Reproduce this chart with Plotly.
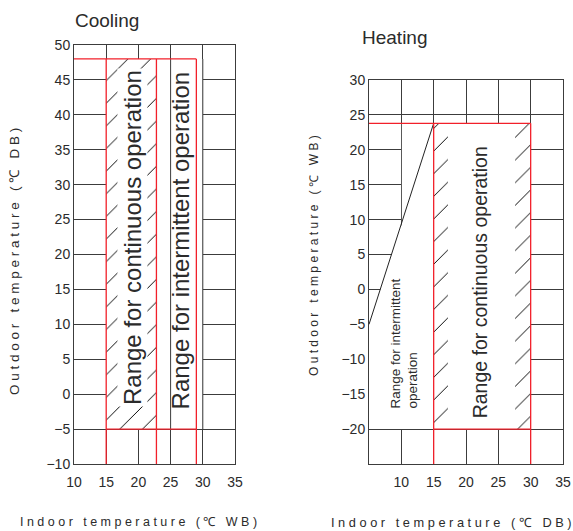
import plotly.graph_objects as go

# ticks
cool_xticks = [10, 15, 20, 25, 30, 35]
cool_yticks = [-10, -5, 0, 5, 10, 15, 20, 25, 30, 35, 40, 45, 50]
heat_xticks = [10, 15, 20, 25, 30, 35]
heat_yticks = [-20, -15, -10, -5, 0, 5, 10, 15, 20, 25, 30]

# cooling limits (indoor WB / outdoor DB)
cool_cont_x = [15, 22.8]
cool_inter_x = [15, 29]
cool_out_y = [-5, 48]

# heating limits (indoor DB / outdoor WB)
heat_cont_x = [15, 30]
heat_out_y = [-20, 23.8]
heat_inter_line_x = [5, 15]
heat_inter_line_y = [-5, 23.8]

RED = '#f2202a'
GRID = '#3c3c3c'
TXT = '#2b2b2b'
FONT = 'Arial, Liberation Sans, sans-serif'
HATCH = dict(shape='/', size=16, solidity=0.06, fgcolor='#000', fgopacity=1, bgcolor='white')

W, H = 573, 531


def px(x):
    return x / W


def py(y):
    return 1 - y / H


def spaced(s):
    # the original axis titles are letter-spaced
    return '\u00a0'.join(s.replace(' ', '\u00a0'))


fig = go.Figure()


def red(x, y, xa, ya):
    fig.add_trace(go.Scatter(x=x, y=y, mode='lines', xaxis=xa, yaxis=ya,
                             line=dict(color=RED, width=1.3), hoverinfo='skip'))


# ---- Cooling ----
x0, x1 = cool_cont_x
y0, y1 = cool_out_y
fig.add_trace(go.Scatter(
    x=[x0, x1, x1, x0, x0], y=[y0, y0, y1, y1, y0], fill='toself', mode='none',
    fillcolor='white', xaxis='x', yaxis='y', hoverinfo='skip', fillpattern=HATCH))
ix1 = cool_inter_x[1]
red([10, ix1], [y1, y1], 'x', 'y')
red([x0, ix1], [y0, y0], 'x', 'y')
for xv in [x0, x1, ix1]:
    red([xv, xv], [y1, cool_yticks[0]], 'x', 'y')

# ---- Heating ----
hx0, hx1 = heat_cont_x
hy0, hy1 = heat_out_y
sw_l, sw_r = 2.2, 2.4
fig.add_trace(go.Scatter(
    x=[hx0, hx0 + sw_l, hx0 + sw_l, hx0, hx0, None, hx1 - sw_r, hx1, hx1, hx1 - sw_r, hx1 - sw_r],
    y=[hy0, hy0, hy1, hy1, hy0, None, hy0, hy0, hy1, hy1, hy0],
    fill='toself', mode='none', fillcolor='white', xaxis='x2', yaxis='y2', hoverinfo='skip',
    fillpattern=HATCH))
fig.add_trace(go.Scatter(x=heat_inter_line_x, y=heat_inter_line_y, mode='lines',
                         xaxis='x2', yaxis='y2', line=dict(color='#222', width=1),
                         hoverinfo='skip'))
red([5, hx1], [hy1, hy1], 'x2', 'y2')
red([hx0, hx1], [hy0, hy0], 'x2', 'y2')
for xv in [hx0, hx1]:
    red([xv, xv], [hy1, -25], 'x2', 'y2')

# white masks over the grid inside the ranges
ym = heat_inter_line_y[0] + (heat_inter_line_y[1] - heat_inter_line_y[0]) * 0.5
shapes = [
    dict(type='rect', xref='x', yref='y', x0=15, x1=30, y0=y0, y1=y1,
         fillcolor='white', line=dict(width=0), layer='between'),
    dict(type='line', xref='x', yref='y', x0=25, x1=25, y0=y0, y1=y1,
         line=dict(color=GRID, width=1), layer='between'),
    dict(type='line', xref='x', yref='y', x0=30, x1=30, y0=y0, y1=y1,
         line=dict(color=GRID, width=1), layer='between'),
    dict(type='path', xref='x2', yref='y2',
         path=f'M 5,{hy0} L 5,-5 L 10.08,{ym} L 10.08,{hy1} L {hx1},{hy1} L {hx1},{hy0} Z',
         fillcolor='white', line=dict(width=0), layer='between'),
]

c = dict(xanchor='center', yanchor='middle', showarrow=False)
ann = [
    dict(c, text='Range for continuous operation', x=19, y=22.5, xref='x', yref='y',
         textangle=-90, font=dict(size=24, color=TXT), bgcolor='white', borderpad=1),
    dict(c, text='Range for intermittent operation', x=26.6, y=22.0, xref='x', yref='y',
         textangle=-90, font=dict(size=24, color=TXT)),
    dict(c, text='Range for continuous operation', x=22.3, y=1.0, xref='x2', yref='y2',
         textangle=-90, font=dict(size=19.5, color=TXT)),
    dict(c, text='Range for intermittent<br>operation', x=10.5, y=-7.8, xref='x2', yref='y2',
         textangle=-90, align='left', font=dict(size=13.5, color=TXT)),
    dict(c, text='Cooling', x=px(107), y=py(21), xref='paper', yref='paper',
         font=dict(size=19, color=TXT, family='Liberation Sans Narrow, Arial Narrow, Arial')),
    dict(c, text='Heating', x=px(395), y=py(38), xref='paper', yref='paper',
         font=dict(size=19, color=TXT, family='Liberation Sans Narrow, Arial Narrow, Arial')),
    dict(c, text=spaced('Indoor temperature (℃ WB)'), x=px(138), y=py(522),
         xref='paper', yref='paper', font=dict(size=12.5, color=TXT)),
    dict(c, text=spaced('Indoor temperature (℃ DB)'), x=px(451), y=py(522),
         xref='paper', yref='paper', font=dict(size=12.8, color=TXT)),
    dict(c, text=spaced('Outdoor temperature (℃ DB)'), x=px(14), y=py(262),
         textangle=-90, xref='paper', yref='paper', font=dict(size=13.5, color=TXT)),
    dict(c, text=spaced('Outdoor temperature (℃ WB)'), x=px(314), y=py(256),
         textangle=-90, xref='paper', yref='paper', font=dict(size=12, color=TXT)),
]

ax = dict(showgrid=True, gridcolor=GRID, gridwidth=1, showline=True, linecolor=GRID,
          linewidth=1, mirror=True, zeroline=False, ticks='', fixedrange=True,
          tickfont=dict(size=14, color=TXT))

fig.update_layout(
    width=W, height=H, showlegend=False,
    margin=dict(l=0, r=0, t=0, b=0, autoexpand=False),
    paper_bgcolor='white', plot_bgcolor='white',
    font=dict(family=FONT, color=TXT),
    xaxis=dict(ax, domain=[px(74), px(235)], range=[10, 35], tickvals=cool_xticks,
               anchor='y', ticklabelstandoff=5),
    yaxis=dict(ax, domain=[py(464), py(45)], range=[-10, 50],
               tickvals=cool_yticks, anchor='x'),
    xaxis2=dict(ax, domain=[px(369), px(563)], range=[5, 35], tickvals=heat_xticks,
                anchor='y2', ticklabelstandoff=5),
    yaxis2=dict(ax, domain=[py(464), py(80)], range=[-25, 30],
                tickvals=heat_yticks, anchor='x2'),
    shapes=shapes, annotations=ann,
)

# drop the browser's default body margin so the page is exactly the figure
fig.write_html("out.html", config={'displayModeBar': False},
               post_script="document.body.style.margin='0';document.body.style.overflow='hidden';")
